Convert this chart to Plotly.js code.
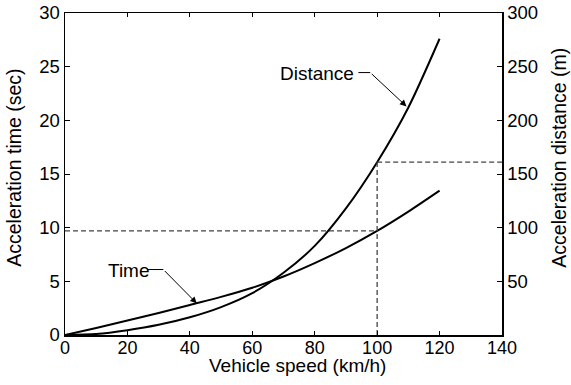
<!DOCTYPE html>
<html>
<head>
<meta charset="utf-8">
<script src="https://cdn.plot.ly/plotly-3.0.1.min.js"></script>
<style>html,body{margin:0;padding:0;background:#fff;}#chart{width:571px;height:385px;}</style>
</head>
<body>
<div id="chart"></div>
<script>
// Vehicle speed (km/h)
const speed = [0, 10, 20, 30, 40, 50, 60, 70, 80, 90, 100, 110, 120];
// Acceleration time (sec)
const accelTime = [0, 0.65, 1.35, 2.05, 2.8, 3.55, 4.4, 5.45, 6.7, 8.1, 9.7, 11.5, 13.45];
// Acceleration distance (m)
const accelDistance = [0, 1, 4.5, 9.5, 16.5, 26, 39, 58, 83, 118, 161, 212, 276];
// Reference speed for the dashed read-off lines
const refSpeed = 100;
const xTicks = [0, 20, 40, 60, 80, 100, 120, 140];
const yTicks = [0, 5, 10, 15, 20, 25, 30];
const y2Ticks = [50, 100, 150, 200, 250, 300];
const xTitle = 'Vehicle speed (km/h)';
const yTitle = 'Acceleration time (sec)';
const y2Title = 'Acceleration distance (m)';

const refIdx = speed.indexOf(refSpeed);
const refTime = accelTime[refIdx];
const refDist = accelDistance[refIdx];

const FONT = 'Liberation Sans, Arial, Helvetica, sans-serif';
const dashStyle = {color: '#444', width: 1.3, dash: '5px,3px'};

const traces = [
  {x: speed, y: accelTime, mode: 'lines', line: {color: '#000', width: 2, shape: 'spline', smoothing: 0.8}, xaxis: 'x', yaxis: 'y', name: 'Time', hoverinfo: 'x+y'},
  {x: speed, y: accelDistance, mode: 'lines', line: {color: '#000', width: 2, shape: 'spline', smoothing: 0.8}, xaxis: 'x', yaxis: 'y2', name: 'Distance', hoverinfo: 'x+y'},
  // dashed read-off lines
  {x: [0, refSpeed], y: [refTime, refTime], mode: 'lines', line: dashStyle, xaxis: 'x', yaxis: 'y', hoverinfo: 'skip'},
  {x: [refSpeed, refSpeed], y: [0, refDist], mode: 'lines', line: dashStyle, xaxis: 'x', yaxis: 'y2', hoverinfo: 'skip'},
  {x: [refSpeed, 140], y: [refDist, refDist], mode: 'lines', line: dashStyle, xaxis: 'x', yaxis: 'y2', hoverinfo: 'skip'}
];

const layout = {
  width: 571, height: 385,
  margin: {l: 65, r: 69, t: 13, b: 50, pad: 0},
  paper_bgcolor: '#fff', plot_bgcolor: '#fff',
  font: {family: FONT, size: 18.5, color: '#000'},
  showlegend: false,
  xaxis: {
    range: [0, 140], tickvals: xTicks, ticks: 'inside', ticklen: 4, tickwidth: 1, tickcolor: '#000',
    showline: true, linecolor: '#000', linewidth: 1.5, mirror: 'ticks', showgrid: false, zeroline: false,
    tickfont: {size: 18}, ticklabelstandoff: -4
  },
  yaxis: {
    range: [0, 30], tickvals: yTicks, ticks: 'inside', ticklen: 5, tickwidth: 1, tickcolor: '#000',
    showline: true, linecolor: '#000', linewidth: 1.5, showgrid: false, zeroline: false,
    tickfont: {size: 18.5}
  },
  yaxis2: {
    range: [0, 300], tickvals: y2Ticks, ticks: 'inside', ticklen: 5, tickwidth: 1, tickcolor: '#000',
    overlaying: 'y', side: 'right', anchor: 'x',
    showline: true, linecolor: '#000', linewidth: 1.5, showgrid: false, zeroline: false,
    tickfont: {size: 18.5}
  },
  shapes: [
    {type: 'line', xref: 'x', yref: 'y', x0: 94, x1: 97.8, y0: 24.45, y1: 24.45, line: {color: '#000', width: 1}},
    {type: 'line', xref: 'x', yref: 'y', x0: 26.6, x1: 31.5, y0: 6.1, y1: 6.1, line: {color: '#000', width: 1}}
  ],
  annotations: [
    // axis titles
    {text: xTitle, xref: 'paper', yref: 'paper', x: 0.533, y: -0.055, showarrow: false, font: {size: 19}, xanchor: 'center', yanchor: 'top'},
    {text: yTitle, xref: 'paper', yref: 'paper', x: -0.117, y: 0.519, textangle: -90, showarrow: false, font: {size: 19.5}, xanchor: 'center', yanchor: 'middle'},
    {text: y2Title, xref: 'paper', yref: 'paper', x: 1.130, y: 0.550, textangle: -90, showarrow: false, font: {size: 19.5}, xanchor: 'center', yanchor: 'middle'},
    // curve labels
    {text: 'Distance', x: 80.6, y: 24.4, xref: 'x', yref: 'y', showarrow: false, font: {size: 19}},
    {text: '', x: 109.4, y: 21.3, xref: 'x', yref: 'y', ax: 97.8, ay: 24.45, axref: 'x', ayref: 'y',
     showarrow: true, arrowhead: 2, arrowsize: 1.3, arrowwidth: 1, arrowcolor: '#000', standoff: 0},
    {text: 'Time', x: 20.5, y: 6.05, xref: 'x', yref: 'y', showarrow: false, font: {size: 19}},
    {text: '', x: 42.2, y: 2.95, xref: 'x', yref: 'y', ax: 31.5, ay: 6.1, axref: 'x', ayref: 'y',
     showarrow: true, arrowhead: 2, arrowsize: 1.3, arrowwidth: 1, arrowcolor: '#000', standoff: 0}
  ]
};

Plotly.newPlot('chart', traces, layout, {displayModeBar: false, staticPlot: true});
</script>
</body>
</html>
